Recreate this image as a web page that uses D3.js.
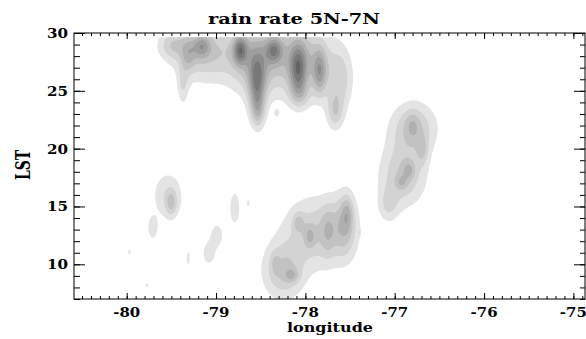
<!DOCTYPE html>
<meta charset="utf-8">
<style>
body { margin: 0; background: #fff; }
text { font-family: "DejaVu Serif", serif; font-weight: bold; fill: #000; }
</style>
<body>
<script src="https://cdn.jsdelivr.net/npm/d3@7"></script>
<script>

// rain cells: centre (lon, LST), peak rate in contour
// level units, and spread in degrees / hours
var cellLon = [-79.49, -79.12, -78.56, -78.06, -77.61,
               -79.31, -79.16, -78.73, -78.54, -78.35, -78.08, -77.84,
               -79.37, -78.06, -77.67, -78.53, -78.32,
               -76.79, -76.91, -77.07, -76.69, -76.84, -76.92, -76.80,
               -77.86, -78.25, -77.56, -78.08, -77.95, -77.75, -77.53, -78.15, -78.34,
               -79.54, -79.50, -79.71, -79.97, -79.77, -79.31, -78.99, -79.08, -78.79, -78.64, -77.40];
var cellLst = [28.96, 28.36, 27.67, 27.84, 25.94,
               28.10, 28.87, 28.53, 25.50, 28.53, 26.80, 26.62,
               25.50, 24.64, 23.16, 23.16, 23.07,
               21.79, 17.72, 15.13, 19.87, 18.14, 17.10, 22.03,
               12.79, 9.40, 13.38, 13.64, 12.42, 12.94, 14.50, 9.05, 10.09,
               15.97, 15.28, 13.12, 11.04, 8.18, 10.52, 12.51, 10.95, 14.85, 15.28, 12.77];
var cellRate = [2.2, 3.2, 3.5, 3.5, 2.4,
                2.0, 3.0, 5.0, 5.0, 4.0, 5.0, 4.0,
                1.8, 1.6, 2.4, 2.0, 1.3,
                3.0, 3.0, 1.8, 1.8, 1.8, 1.5, 1.2,
                2.8, 3.0, 2.6, 1.8, 1.8, 1.5, 1.8, 1.8, 1.0,
                1.8, 2.2, 1.6, 1.3, 1.3, 1.4, 1.7, 1.7, 1.8, 1.3, 1.2];
var cellSdLon = [0.112, 0.246, 0.20, 0.246, 0.10,
                 0.056, 0.067, 0.056, 0.067, 0.067, 0.067, 0.056,
                 0.045, 0.09, 0.067, 0.056, 0.022,
                 0.18, 0.18, 0.078, 0.045, 0.045, 0.045, 0.056,
                 0.27, 0.16, 0.09, 0.045, 0.045, 0.056, 0.045, 0.056, 0.034,
                 0.13, 0.045, 0.045, 0.022, 0.022, 0.022, 0.056, 0.056, 0.045, 0.017, 0.011];
var cellSdLst = [0.86, 1.73, 2.16, 2.16, 1.9,
                 1.04, 0.69, 0.87, 1.9, 0.78, 1.56, 1.39,
                 1.21, 0.86, 1.1, 1.0, 0.26,
                 1.56, 1.9, 1.04, 0.87, 0.52, 0.43, 0.87,
                 2.16, 1.7, 1.9, 0.61, 0.69, 1.56, 1.04, 0.43, 0.69,
                 1.56, 0.78, 0.78, 0.26, 0.26, 0.61, 0.78, 0.78, 1.13, 0.35, 0.17];

var levels = [1, 2, 3, 4, 5, 6, 7, 8, 9];
var grays = ["#e4e4e4", "#d3d3d3", "#c2c2c2", "#b0b0b0", "#9e9e9e",
             "#8b8b8b", "#787878", "#656565", "#525252"];

var lonTicks = [-80, -79, -78, -77, -76, -75];
var lstTicks = [10, 15, 20, 25, 30];

var w = 586,
    h = 339;

var x = d3.scaleLinear().domain([-80.59, -74.87]).range([74, 585]);
var y = d3.scaleLinear().domain([7, 30]).range([299, 33]);

var svg = d3.select("body").append("svg")
    .attr("width", w)
    .attr("height", h);

// gridded field from the cells
var nx = 512, ny = 264;
var lon0 = x.domain()[0], dlon = (x.domain()[1] - lon0) / (nx - 1);
var lst0 = 7, lstTop = 29.6, dlst = (lstTop - lst0) / (ny - 1);
var values = new Float64Array(nx * ny);
for (var j = 0; j < ny; j++) {
  var lst = lst0 + j * dlst;
  for (var i = 0; i < nx; i++) {
    var lon = lon0 + i * dlon, v = 0;
    for (var k = 0; k < cellLon.length; k++) {
      var a = (lon - cellLon[k]) / cellSdLon[k],
          b = (lst - cellLst[k]) / cellSdLst[k];
      v += cellRate[k] * Math.exp(-(a * a + b * b) / 2);
    }
    values[j * nx + i] = v;
  }
}

var contours = d3.contours().size([nx, ny]).thresholds(levels)(values);

var path = d3.geoPath(d3.geoTransform({
  point: function(px, py) {
    this.stream.point(x(lon0 + (px - 0.5) * dlon), y(lst0 + (py - 0.5) * dlst));
  }
}));

svg.append("clipPath").attr("id", "clip")
  .append("rect").attr("x", 74).attr("y", 33).attr("width", 511).attr("height", 266);

svg.append("g").attr("clip-path", "url(#clip)")
  .selectAll("path")
  .data(contours)
  .enter().append("path")
    .attr("d", path)
    .attr("fill", function(d, i) { return grays[i]; });

// frame and ticks
svg.append("rect")
    .attr("x", 74).attr("y", 33).attr("width", 511).attr("height", 266)
    .attr("fill", "none").attr("stroke", "#000");

var minorLon = d3.range(-80.5, -74.85, 0.1),
    minorLst = d3.range(7, 30.01, 1);

function ticks(axis, vals, size, tr) {
  var g = svg.append("g").attr("transform", tr)
      .call(axis.tickValues(vals).tickSize(size).tickFormat(""));
  g.select(".domain").remove();
  g.selectAll("line").attr("stroke", "#000");
}

ticks(d3.axisBottom(x), minorLon, -3, "translate(0,299)");
ticks(d3.axisBottom(x), lonTicks, -6, "translate(0,299)");
ticks(d3.axisTop(x), minorLon, -3, "translate(0,33)");
ticks(d3.axisTop(x), lonTicks, -6, "translate(0,33)");
ticks(d3.axisLeft(y), minorLst, -6, "translate(74,0)");
ticks(d3.axisLeft(y), lstTicks, -11, "translate(74,0)");
ticks(d3.axisRight(y), minorLst, -5, "translate(585,0)");
ticks(d3.axisRight(y), lstTicks, -11, "translate(585,0)");

// labels
svg.selectAll(".xl")
  .data(lonTicks)
  .enter().append("text")
    .attr("x", function(d) { return x(d); })
    .attr("y", 317)
    .attr("text-anchor", "middle")
    .attr("font-size", 13)
    .attr("textLength", 27)
    .attr("lengthAdjust", "spacingAndGlyphs")
    .text(function(d) { return d; });

svg.selectAll(".yl")
  .data(lstTicks)
  .enter().append("text")
    .attr("x", 68)
    .attr("y", function(d) { return y(d) + 5; })
    .attr("text-anchor", "end")
    .attr("font-size", 13)
    .attr("textLength", 21)
    .attr("lengthAdjust", "spacingAndGlyphs")
    .text(function(d) { return d; });

svg.append("text")
    .attr("x", 294).attr("y", 24)
    .attr("text-anchor", "middle")
    .attr("font-size", 14)
    .attr("textLength", 172)
    .attr("lengthAdjust", "spacingAndGlyphs")
    .text("rain rate 5N-7N");

svg.append("text")
    .attr("x", 330).attr("y", 332)
    .attr("text-anchor", "middle")
    .attr("font-size", 13)
    .attr("textLength", 86)
    .attr("lengthAdjust", "spacingAndGlyphs")
    .text("longitude");

svg.append("text")
    .attr("transform", "translate(30,165) rotate(-90) scale(1,1.4)")
    .attr("text-anchor", "middle")
    .attr("font-size", 14)
    .attr("textLength", 30)
    .attr("lengthAdjust", "spacingAndGlyphs")
    .text("LST");

</script>
